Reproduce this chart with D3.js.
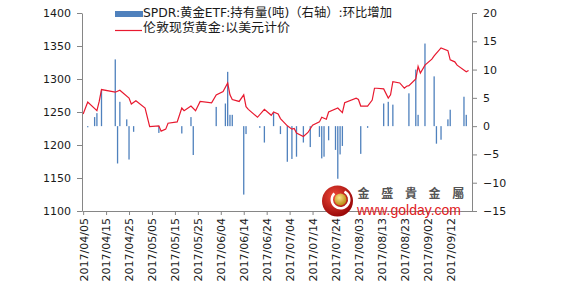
<!DOCTYPE html>
<html>
<head>
<meta charset="utf-8">
<script src="https://cdnjs.cloudflare.com/ajax/libs/d3/7.8.5/d3.min.js"></script>
<style>
body { margin: 0; background: #fff; }
svg text { font-family: "DejaVu Sans", sans-serif; }
</style>
</head>
<body>
<div id="chart"></div>
<script>
// datos
const goldDates = ["2017-04-05","2017-04-07","2017-04-11","2017-04-12","2017-04-13","2017-04-19","2017-04-21","2017-04-25","2017-04-26","2017-04-28",
  "2017-05-02","2017-05-04","2017-05-08","2017-05-09","2017-05-11","2017-05-12","2017-05-16","2017-05-18","2017-05-19","2017-05-22",
  "2017-05-24","2017-05-26","2017-05-31","2017-06-02","2017-06-05","2017-06-07","2017-06-08","2017-06-09","2017-06-12","2017-06-14",
  "2017-06-15","2017-06-16","2017-06-20","2017-06-23","2017-06-26","2017-06-27","2017-06-29","2017-06-30","2017-07-03","2017-07-05",
  "2017-07-06","2017-07-07","2017-07-10","2017-07-12","2017-07-14","2017-07-17","2017-07-18","2017-07-20","2017-07-21","2017-07-25",
  "2017-07-27","2017-07-28","2017-08-02","2017-08-03","2017-08-04","2017-08-07","2017-08-09","2017-08-10","2017-08-11","2017-08-14",
  "2017-08-16","2017-08-17","2017-08-18","2017-08-21","2017-08-23","2017-08-24","2017-08-25","2017-08-28","2017-08-29","2017-08-30",
  "2017-09-01","2017-09-04","2017-09-05","2017-09-08","2017-09-11","2017-09-12","2017-09-14","2017-09-15","2017-09-19","2017-09-20"]
const goldPrice = [1247,1265,1252,1266,1284,1280,1283,1271,1262,1267,
  1256,1228,1229,1221,1224,1233,1235,1256,1252,1259,
  1252,1266,1264,1276,1281,1294,1276,1269,1266,1276,
  1258,1254,1242,1254,1245,1250,1247,1240,1229,1224,
  1225,1218,1213,1219,1230,1235,1242,1239,1250,1256,
  1249,1264,1271,1269,1259,1259,1268,1286,1286,1285,
  1271,1276,1296,1294,1286,1289,1290,1300,1319,1309,
  1321,1330,1335,1347,1343,1329,1326,1321,1311,1313]

const spdrDates = ["2017-04-07","2017-04-10","2017-04-11","2017-04-13","2017-04-19","2017-04-20","2017-04-21","2017-04-24","2017-04-25","2017-04-27",
  "2017-05-08","2017-05-18","2017-05-22","2017-05-23","2017-06-02","2017-06-06","2017-06-07","2017-06-08","2017-06-09","2017-06-14",
  "2017-06-15","2017-06-21","2017-06-23","2017-06-27","2017-06-30","2017-07-03","2017-07-05","2017-07-07","2017-07-10","2017-07-13",
  "2017-07-17","2017-07-18","2017-07-19","2017-07-21","2017-07-24","2017-07-25","2017-07-26","2017-07-27","2017-08-04","2017-08-07",
  "2017-08-14","2017-08-16","2017-08-18","2017-08-25","2017-08-28","2017-08-29","2017-09-01","2017-09-05","2017-09-06","2017-09-08",
  "2017-09-11","2017-09-12","2017-09-18","2017-09-19"]
const spdrChange = [-0.2,1.6,2.3,6.3,11.8,-6.6,4.3,1.2,-5.9,-1.0,
  -1.2,-1.3,1.6,-5.1,3.4,4.0,9.6,2.0,2.0,-12.1,
  -1.4,-0.3,-2.9,2.4,-1.4,-6.3,-5.8,-5.4,-2.9,-3.7,
  -1.9,-5.7,-5.4,-2.5,-4.2,-9.3,-5.0,-3.5,-4.9,-0.3,
  4.0,4.3,3.8,5.8,10.0,2.0,14.6,8.8,-3.1,-2.4,
  1.2,2.9,5.2,2.0]

const leftTicks = [1100,1150,1200,1250,1300,1350,1400]
const rightTicks = [-15,-10,-5,0,5,10,15,20]
const dateTicks = ["2017/04/05","2017/04/15","2017/04/25","2017/05/05","2017/05/15","2017/05/25","2017/06/04","2017/06/14","2017/06/24",
  "2017/07/04","2017/07/14","2017/07/24","2017/08/03","2017/08/13","2017/08/23","2017/09/02","2017/09/12"]
const legendLabels = ["SPDR:黄金ETF:持有量(吨)（右轴）:环比增加", "伦敦现货黄金:以美元计价"]
const brandName = ["金","盛","貴","金","屬"]
const brandUrl = "www.golday.com"

const width = 569
const height = 289
const plot = { left: 82, right: 472, top: 13, bottom: 211 }
const axisColor = "#868686"
const barColor = "#4f81bd"
const lineColor = "#e8192f"

const parseDay = d3.timeParse("%Y-%m-%d")
const parseTick = d3.timeParse("%Y/%m/%d")

const svg = d3.select("div#chart").append("svg").attr("width", width).attr("height", height)

// escalas
const x = d3.scaleTime()
    .domain([d3.timeHour.offset(parseDay("2017-04-05"), -12), d3.timeHour.offset(parseDay("2017-09-21"), 12)])
    .range([plot.left, plot.right])
const yLeft = d3.scaleLinear().domain([1100, 1400]).range([plot.bottom, plot.top])
const yRight = d3.scaleLinear().domain([-15, 20]).range([plot.bottom, plot.top])

// barras SPDR
const bars = spdrDates.map((d, i) => ({ date: parseDay(d), value: spdrChange[i] }))
svg.append("g").attr("class", "bars")
    .selectAll("rect").data(bars).enter()
    .append("rect")
    .attr("x", d => x(d.date) - 0.65)
    .attr("width", 1.3)
    .attr("y", d => Math.min(yRight(0), yRight(d.value)))
    .attr("height", d => Math.max(0.8, Math.abs(yRight(d.value) - yRight(0))))
    .attr("fill", barColor)

// linea oro
const gold = goldDates.map((d, i) => ({ date: parseDay(d), value: goldPrice[i] }))
const line = d3.line().x(d => x(d.date)).y(d => yLeft(d.value))
svg.append("path").datum(gold)
    .attr("d", line)
    .attr("fill", "none")
    .attr("stroke", lineColor)
    .attr("stroke-width", 1.2)

// ejes
function styleAxis(g) {
    g.select(".domain").attr("stroke", axisColor)
    g.selectAll(".tick line").attr("stroke", axisColor)
    g.selectAll(".tick text").attr("fill", "#1a1a1a").style("font-size", "11px")
}

const xAxis = d3.axisBottom(x)
    .tickValues(dateTicks.map(parseTick))
    .tickFormat(d3.timeFormat("%Y/%m/%d"))
    .tickSize(4).tickSizeOuter(0)
svg.append("g").attr("transform", `translate(0,${plot.bottom})`)
    .call(xAxis).call(styleAxis)
    .selectAll(".tick text")
    .attr("transform", "rotate(-90)")
    .attr("text-anchor", "end")
    .attr("x", -7).attr("y", 0).attr("dy", "0.35em")

svg.append("g").attr("transform", `translate(${plot.left},0)`)
    .call(d3.axisLeft(yLeft).tickValues(leftTicks).tickFormat(d3.format("d")).tickSize(5).tickSizeOuter(0).tickPadding(6))
    .call(styleAxis)

svg.append("g").attr("transform", `translate(${plot.right},0)`)
    .call(d3.axisRight(yRight).tickValues(rightTicks).tickFormat(d3.format("d")).tickSize(5).tickSizeOuter(0).tickPadding(6))
    .call(styleAxis)

// leyenda
const legend = svg.append("g").attr("transform", "translate(115,0)")
legend.append("rect").attr("x", 0).attr("y", 11).attr("width", 28).attr("height", 6).attr("fill", barColor)
legend.append("line").attr("x1", 0).attr("x2", 27).attr("y1", 30.5).attr("y2", 30.5)
    .attr("stroke", lineColor).attr("stroke-width", 1.2)
legend.selectAll("text.leg").data(legendLabels).enter()
    .append("text").attr("class", "leg")
    .attr("x", 28).attr("y", (d, i) => 17.3 + i * 15)
    .attr("textLength", (d, i) => i === 0 ? 249 : 147)
    .attr("lengthAdjust", "spacingAndGlyphs")
    .style("font-family", "'DejaVu Sans', 'Noto Sans CJK SC', sans-serif")
    .style("font-size", "12.5px")
    .attr("fill", "#1a1a1a")
    .text(d => d)

// marca de agua
const logo = svg.append("g").attr("class", "logo")
const defs = svg.append("defs")
const redGrad = defs.append("radialGradient").attr("id", "redBall").attr("cx", "40%").attr("cy", "35%").attr("r", "65%")
redGrad.append("stop").attr("offset", "0%").attr("stop-color", "#f04a3a")
redGrad.append("stop").attr("offset", "100%").attr("stop-color", "#9a0808")
const goldGrad = defs.append("radialGradient").attr("id", "goldBall").attr("cx", "40%").attr("cy", "35%").attr("r", "65%")
goldGrad.append("stop").attr("offset", "0%").attr("stop-color", "#fbe48a")
goldGrad.append("stop").attr("offset", "100%").attr("stop-color", "#b88a10")

logo.append("circle").attr("cx", 337.5).attr("cy", 201).attr("r", 15.5).attr("fill", "url(#redBall)")
logo.append("path")
    .attr("transform", "translate(340.5,199.5)")
    .attr("d", d3.arc().innerRadius(7.5).outerRadius(10).startAngle(Math.PI * 0.15).endAngle(Math.PI * 1.75)())
    .attr("fill", "#fff")
logo.append("circle").attr("cx", 340.5).attr("cy", 199.5).attr("r", 6).attr("fill", "url(#goldBall)")

logo.selectAll("text.brand").data(brandName).enter()
    .append("text").attr("class", "brand")
    .attr("x", (d, i) => 363.5 + i * 23.7)
    .attr("y", 198)
    .attr("text-anchor", "middle")
    .style("font-family", "'Noto Sans CJK TC', sans-serif")
    .style("font-size", "12px")
    .style("font-weight", "bold")
    .attr("fill", "#555")
    .text(d => d)

logo.append("text")
    .attr("x", 357).attr("y", 214.5)
    .style("font-family", "'Liberation Sans', Arial, sans-serif")
    .style("font-size", "14px")
    .attr("fill", "#e0201e")
    .text(brandUrl)
</script>
</body>
</html>
